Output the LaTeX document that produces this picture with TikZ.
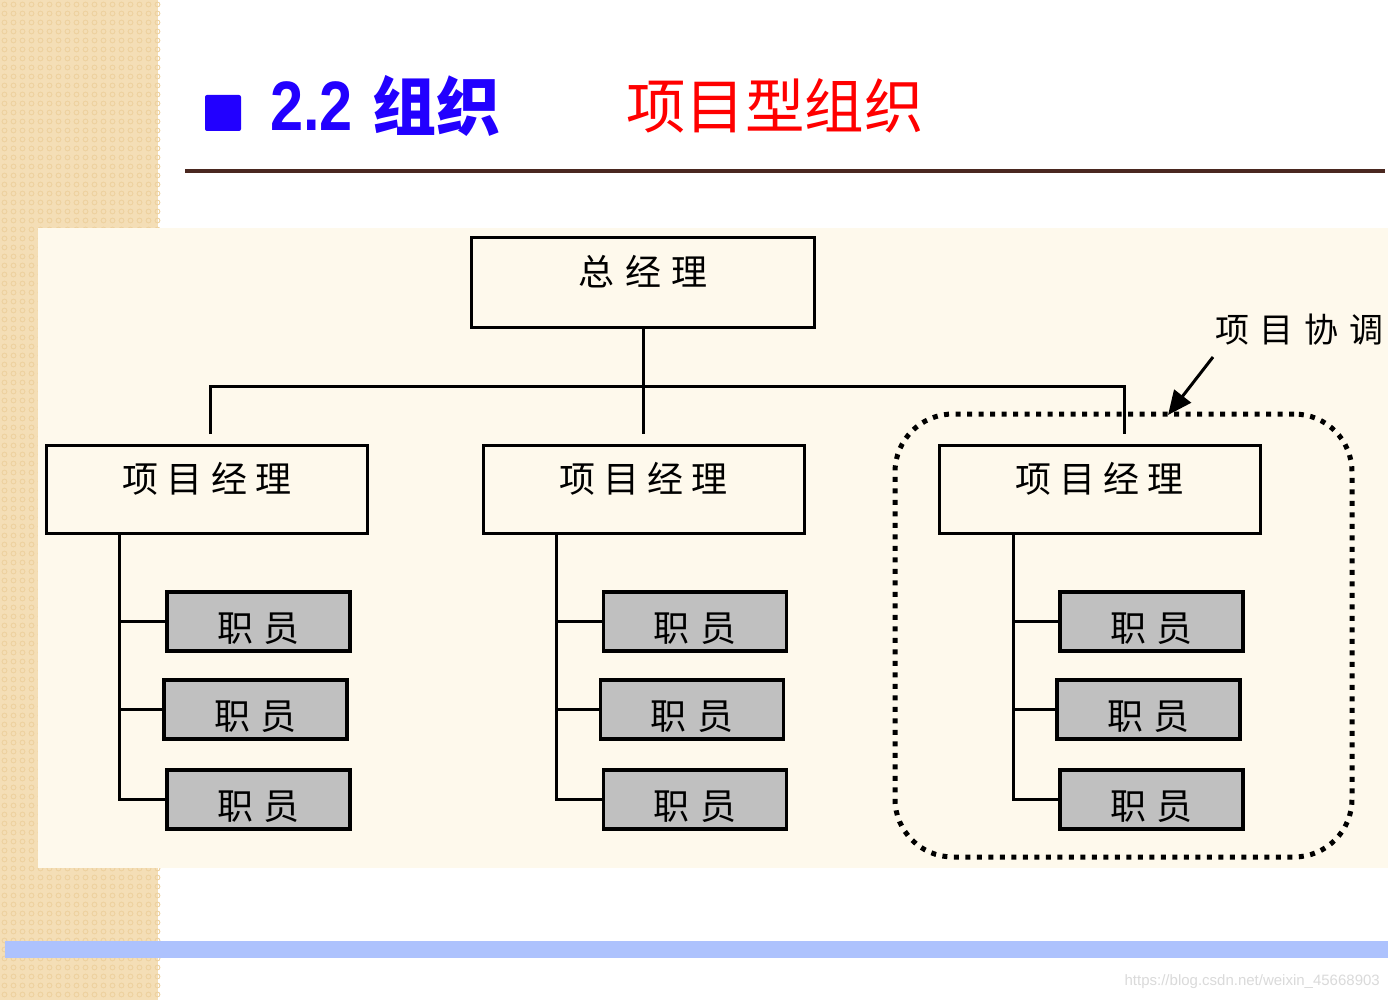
\documentclass[tikz,border=0pt]{standalone}
\usepackage{fontspec}
\setmainfont{Liberation Sans}
\newfontfamily\cjk{Noto Sans CJK SC}
\newfontfamily\arialf{Liberation Sans}
\usetikzlibrary{arrows.meta}
\definecolor{stripc}{HTML}{F4DEB6}
\definecolor{stripdotc}{HTML}{EDD19F}
\definecolor{creamc}{HTML}{FEF9EC}
\definecolor{barblue}{HTML}{ADC2FD}
\definecolor{rulebrown}{HTML}{4A2820}
\definecolor{titleblue}{HTML}{2200FF}
\definecolor{titlered}{HTML}{FF0000}
\definecolor{staffgray}{HTML}{C0C0C0}
\definecolor{wmgray}{HTML}{DADADA}
\newcommand\lsp{\kern10.8pt}
\newcommand\lspm{\kern8.3pt}
\begin{document}
\begin{tikzpicture}[x=1pt,y=-1pt,
  boxbase/.style={draw=black, line width=3pt, inner sep=0pt, font=\cjk\fontsize{36}{40}\selectfont},
  gmbox/.style={boxbase, minimum width=343, minimum height=89, text height=24pt, text depth=18pt},
  pmbox/.style={boxbase, minimum width=321, minimum height=88, text height=25pt, text depth=18pt},
  staffbox/.style={boxbase, line width=3.3pt, fill=staffgray, minimum width=183, minimum height=59, text height=40pt, text depth=1pt},
  conn/.style={draw=black, line width=3pt},
  tick/.style={draw=black, line width=2.2pt},
  grpbox/.style={draw=black, line width=5pt, dash pattern=on 5pt off 6.5pt, rounded corners=58pt, minimum width=457, minimum height=443, inner sep=0pt},
  arr/.style={draw=black, line width=3pt, -{Triangle[length=24pt,width=21pt]}}
]
\useasboundingbox (0,0) rectangle (1388,1000);
\fill[white] (0,0) rectangle (1388,1000);
% textured side strip
\fill[stripc] (0,0) rectangle (158,1000);
\foreach \i in {0,...,17}{
  \foreach \j in {0,...,111}{
    \draw[stripdotc, line width=0.9pt] (\i*9+4.5,\j*9+4.5) circle (2.4pt);
  }
}
\fill[creamc] (38,228) rectangle (1388,868);
\fill[barblue] (5,941) rectangle (1388,958);
% title
\draw[rulebrown, line width=4pt] (185,171) -- (1385,171);
\fill[titleblue, rounded corners=2pt] (205,95) rectangle (241,131);
\node[anchor=base west, inner sep=0pt, text=titleblue] (tnum) at (270,131)
  {\arialf\bfseries\fontsize{70}{80}\selectfont\scalebox{0.85}[1]{2.2}\hspace{20pt}{\cjk\bfseries\fontsize{64}{70}\selectfont 组织}};
\node[anchor=base west, inner sep=0pt, text=titlered, font=\cjk\fontsize{59.5}{64}\selectfont] (ttype) at (626,129) {项目型组织};
% diagram nodes
\node[gmbox] (gm) at (643,282.5) {总\lsp 经\lsp 理};
\node[pmbox] (pm1) at (207,489) {项\lspm 目\lspm 经\lspm 理};
\node[pmbox] (pm2) at (643.5,489) {项\lspm 目\lspm 经\lspm 理};
\node[pmbox] (pm3) at (1099.5,489) {项\lspm 目\lspm 经\lspm 理};
\node[staffbox] (s11) at (258.5,621.5) {职\lsp 员};
\node[staffbox] (s12) at (255.5,709.5) {职\lsp 员};
\node[staffbox] (s13) at (258.5,799.5) {职\lsp 员};
\node[staffbox] (s21) at (695,621.5) {职\lsp 员};
\node[staffbox] (s22) at (692,709.5) {职\lsp 员};
\node[staffbox] (s23) at (695,799.5) {职\lsp 员};
\node[staffbox] (s31) at (1151.5,621.5) {职\lsp 员};
\node[staffbox] (s32) at (1148.5,709.5) {职\lsp 员};
\node[staffbox] (s33) at (1151.5,799.5) {职\lsp 员};
\node[grpbox] (grp) at (1123.5,635.5) {};
\node[anchor=west, inner sep=0pt, font=\cjk\fontsize{34}{38}\selectfont] (lbl) at (1215,330) {项\lsp 目\lsp 协\lsp 调};
% top connectors
\coordinate (jl) at (210,386);
\coordinate (jr) at (1124,386);
\coordinate (e1) at (210,434);
\coordinate (e2) at (643,434);
\coordinate (e3) at (1124,434);
\draw[conn] (gm.south) -- (e2);
\draw[conn] (e1) -- (jl) -- (jr) -- (e3);
% staff trunks
\coordinate (t1) at (119,0);
\coordinate (t2) at (556,0);
\coordinate (t3) at (1013,0);
\draw[conn] (pm1.south -| t1) |- (s13.west);
\draw[tick] (s11.west -| t1) -- (s11.west);
\draw[tick] (s12.west -| t1) -- (s12.west);
\draw[conn] (pm2.south -| t2) |- (s23.west);
\draw[tick] (s21.west -| t2) -- (s21.west);
\draw[tick] (s22.west -| t2) -- (s22.west);
\draw[conn] (pm3.south -| t3) |- (s33.west);
\draw[tick] (s31.west -| t3) -- (s31.west);
\draw[tick] (s32.west -| t3) -- (s32.west);
% coordination arrow
\coordinate (as) at (1213,357);
\coordinate (ae) at (1168,415);
\draw[arr] (as) -- (ae);
% watermark
\node[anchor=east, inner sep=0pt, text=wmgray, font=\arialf\fontsize{15}{18}\selectfont] (wm) at (1380,982) {https://blog.csdn.net/weixin\_45668903};
\end{tikzpicture}
\end{document}
